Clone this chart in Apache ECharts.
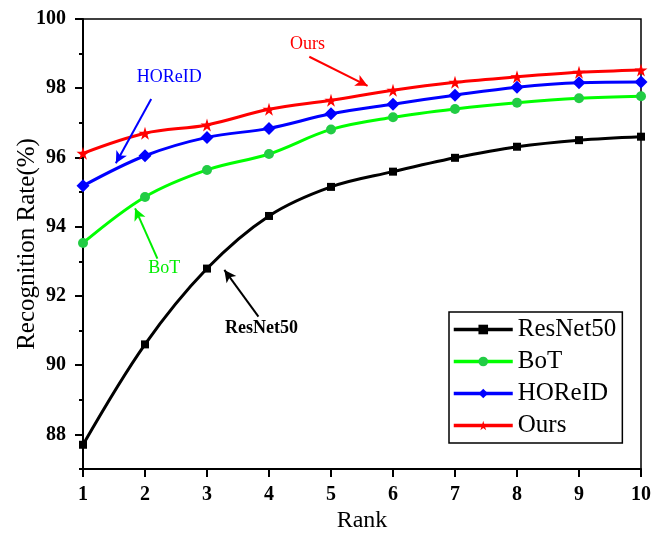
<!DOCTYPE html>
<html>
<head>
<meta charset="utf-8">
<script src="https://cdn.jsdelivr.net/npm/echarts@6/dist/echarts.min.js"></script>
<style>
  html, body { margin: 0; padding: 0; background: #fff; }
  #chart { width: 662px; height: 534px; }
</style>
</head>
<body>
<div id="chart"></div>
<script>
// 数据
const ranks = [1, 2, 3, 4, 5, 6, 7, 8, 9, 10];
const resnet50 = [87.7, 90.6, 92.79, 94.31, 95.15, 95.59, 95.99, 96.31, 96.5, 96.6];
const bot = [93.53, 94.86, 95.64, 96.1, 96.81, 97.16, 97.4, 97.58, 97.71, 97.77];
const horeid = [95.18, 96.05, 96.58, 96.84, 97.26, 97.54, 97.8, 98.03, 98.16, 98.18];
const ours = [96.12, 96.7, 96.94, 97.39, 97.65, 97.94, 98.17, 98.33, 98.46, 98.53];
const yMajorTicks = [88, 90, 92, 94, 96, 98, 100];
const yMinorTicks = [87, 89, 91, 93, 95, 97, 99];

const FONT = 'Liberation Serif';
const STAR = 'path://M50,0 L61,35 L98,35 L68,57 L79,91 L50,70 L21,91 L32,57 L2,35 L39,35 Z';

const toPairs = (vals) => ranks.map((r, i) => [r, vals[i]]);

// 箭头加文字注释
function note(color, text, textAt, from, to, bold) {
  return {
    markLine: {
      silent: true,
      symbol: ['none', 'arrow'],
      symbolSize: [9, 12],
      label: { show: false },
      lineStyle: { color: color, width: 2, type: 'solid' },
      data: [[{ coord: from }, { coord: to }]]
    },
    markPoint: {
      silent: true,
      symbol: 'circle',
      symbolSize: 0,
      label: {
        show: true,
        position: 'inside',
        formatter: text,
        color: color,
        fontFamily: FONT,
        fontSize: 18,
        fontWeight: bold ? 'bold' : 'normal'
      },
      data: [{ coord: textAt }]
    }
  };
}

function makeSeries(name, vals, color, symbol, size, markerColor, extra) {
  return Object.assign({
    name: name,
    type: 'line',
    data: toPairs(vals),
    smooth: 0.35,
    clip: false,
    symbol: symbol,
    symbolSize: size,
    itemStyle: { color: markerColor || color },
    lineStyle: { color: color, width: 3 },
    z: 3
  }, extra);
}

const chart = echarts.init(document.getElementById('chart'));
chart.setOption({
  animation: false,
  grid: {
    left: 83, right: 21, top: 19, bottom: 65,
    outerBoundsMode: 'none',
    show: true, borderColor: '#000', borderWidth: 1.5
  },
  legend: {
    orient: 'vertical',
    left: 449, top: 312,
    padding: [5, 6, 5, 3],
    itemGap: 7,
    itemWidth: 59,
    itemHeight: 12,
    borderColor: '#000',
    borderWidth: 1.5,
    backgroundColor: '#fff',
    lineStyle: { width: 3.5 },
    textStyle: { fontFamily: FONT, fontSize: 25, color: '#000', lineHeight: 25 },
    data: ['ResNet50', 'BoT', 'HOReID', 'Ours']
  },
  xAxis: {
    type: 'value',
    min: 1, max: 10, interval: 1,
    name: 'Rank',
    nameLocation: 'middle',
    nameGap: 40,
    nameMoveOverlap: false,
    nameTextStyle: { fontFamily: FONT, fontSize: 24, color: '#000' },
    axisLine: { lineStyle: { color: '#000', width: 2 } },
    axisTick: { inside: false, length: 8, lineStyle: { width: 2 } },
    axisLabel: { fontFamily: FONT, fontSize: 20, fontWeight: 'bold', color: '#000', margin: 16 },
    splitLine: { show: false }
  },
  yAxis: [{
    type: 'value',
    min: 87, max: 100,
    position: 'left',
    name: 'Recognition Rate(%)',
    nameLocation: 'middle',
    nameGap: 43,
    nameMoveOverlap: false,
    nameTextStyle: { fontFamily: FONT, fontSize: 25, color: '#000' },
    axisLine: { show: true, lineStyle: { color: '#000', width: 2 } },
    axisTick: { show: true, length: 8, lineStyle: { width: 2 }, customValues: yMajorTicks },
    axisLabel: { fontFamily: FONT, fontSize: 20, fontWeight: 'bold', color: '#000', margin: 17, customValues: yMajorTicks },
    splitLine: { show: false }
  }, {
    type: 'value',
    min: 87, max: 100,
    position: 'left',
    axisLine: { show: false },
    axisTick: { show: true, length: 4, lineStyle: { width: 2, color: '#000' }, customValues: yMinorTicks },
    axisLabel: { show: false },
    splitLine: { show: false }
  }],
  series: [
    makeSeries('ResNet50', resnet50, '#000000', 'rect', 8, null,
      note('#000000', 'ResNet50', [3.88, 91.07], [3.83, 91.4], [3.28, 92.75], true)),
    makeSeries('BoT', bot, '#00ff00', 'circle', 10, '#22cc44',
      note('#00ee00', 'BoT', [2.31, 92.8], [2.2, 93.08], [1.84, 94.53], false)),
    makeSeries('HOReID', horeid, '#0000ff', 'diamond', 13, null,
      note('#0000ff', 'HOReID', [2.39, 98.32], [2.1, 97.69], [1.53, 95.83], false)),
    makeSeries('Ours', ours, '#ff0000', STAR, 13, null,
      note('#ff0000', 'Ours', [4.62, 99.28], [4.65, 98.91], [5.59, 98.07], false))
  ]
});
</script>
</body>
</html>
